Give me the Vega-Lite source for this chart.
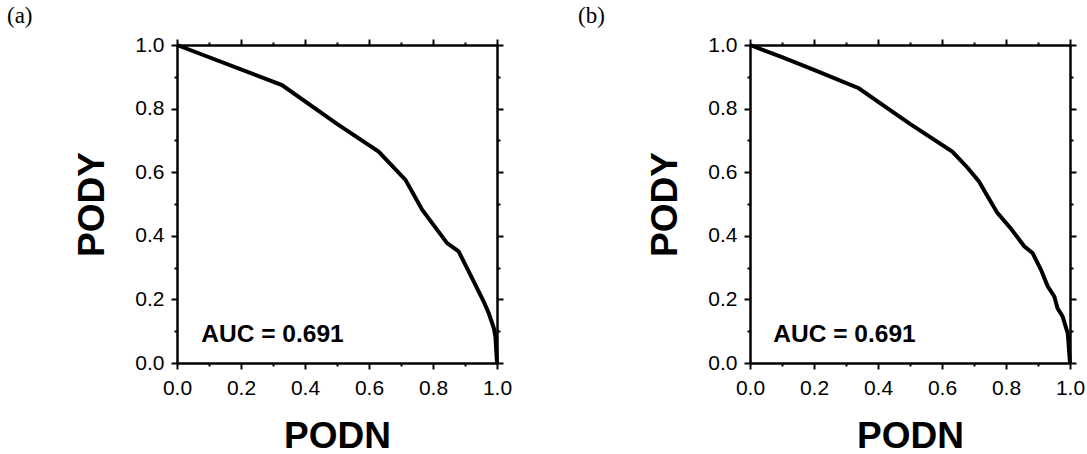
{
  "$schema": "https://vega.github.io/schema/vega-lite/v6.json",
  "background": "white",
  "padding": {"left": 7, "top": 5, "right": 0, "bottom": 0},
  "bounds": "flush",
  "spacing": 253,
  "datasets": {
    "a": [
      {"podn": 0, "pody": 1},
      {"podn": 0.328, "pody": 0.874},
      {"podn": 0.5, "pody": 0.752},
      {"podn": 0.63, "pody": 0.665},
      {"podn": 0.714, "pody": 0.576},
      {"podn": 0.766, "pody": 0.482},
      {"podn": 0.844, "pody": 0.377},
      {"podn": 0.88, "pody": 0.351},
      {"podn": 0.917, "pody": 0.277},
      {"podn": 0.958, "pody": 0.194},
      {"podn": 0.974, "pody": 0.157},
      {"podn": 0.99, "pody": 0.11},
      {"podn": 0.995, "pody": 0.084},
      {"podn": 1, "pody": 0}
    ],
    "b": [
      {"podn": 0, "pody": 1},
      {"podn": 0.1, "pody": 0.962},
      {"podn": 0.2, "pody": 0.922},
      {"podn": 0.34, "pody": 0.864},
      {"podn": 0.42, "pody": 0.808},
      {"podn": 0.5, "pody": 0.752},
      {"podn": 0.632, "pody": 0.665},
      {"podn": 0.68, "pody": 0.614},
      {"podn": 0.716, "pody": 0.57},
      {"podn": 0.745, "pody": 0.52},
      {"podn": 0.773, "pody": 0.472},
      {"podn": 0.815, "pody": 0.423},
      {"podn": 0.857, "pody": 0.367},
      {"podn": 0.883, "pody": 0.346},
      {"podn": 0.909, "pody": 0.294},
      {"podn": 0.93, "pody": 0.242},
      {"podn": 0.951, "pody": 0.209},
      {"podn": 0.961, "pody": 0.172},
      {"podn": 0.977, "pody": 0.146},
      {"podn": 0.993, "pody": 0.093},
      {"podn": 1, "pody": 0}
    ]
  },
  "config": {
    "view": {"stroke": null},
    "axis": {
      "grid": false,
      "domainColor": "black",
      "domainWidth": 2.5,
      "tickColor": "black",
      "tickWidth": 2,
      "labelColor": "black",
      "labelFont": "Liberation Sans",
      "labelFontSize": 21,
      "titleColor": "black",
      "titleFont": "Liberation Sans",
      "titleFontWeight": "bold",
      "titleFontSize": 37
    },
    "title": {
      "font": "Liberation Serif",
      "fontSize": 23,
      "fontWeight": "normal",
      "color": "black",
      "anchor": "start",
      "frame": "group",
      "offset": 6
    }
  },
  "hconcat": [
    {
      "title": {"text": "(a)", "dx": -170},
      "width": 320,
      "height": 318,
      "data": {"name": "a"},
      "resolve": {"axis": {"x": "independent", "y": "independent"}},
      "layer": [
        {
          "mark": {"type": "line", "color": "black", "strokeWidth": 4, "clip": false},
          "encoding": {
            "x": {"field": "podn", "type": "quantitative", "scale": {"domain": [0, 1], "nice": false},
              "axis": {"orient": "bottom", "values": [0, 0.2, 0.4, 0.6, 0.8, 1], "format": ".1f", "tickSize": 6, "labelPadding": 8, "title": "PODN", "titlePadding": 20, "labelFlush": false, "labelOverlap": false}},
            "y": {"field": "pody", "type": "quantitative", "scale": {"domain": [0, 1], "nice": false},
              "axis": {"orient": "left", "values": [0, 0.2, 0.4, 0.6, 0.8, 1], "format": ".1f", "tickSize": 6, "labelPadding": 7, "title": "PODY", "titlePadding": 23, "labelFlush": false, "labelOverlap": false}}
          }
        },
        {
          "mark": {"type": "line", "strokeOpacity": 0},
          "encoding": {
            "x": {"field": "podn", "type": "quantitative", "axis": {"orient": "bottom", "values": [0.1, 0.3, 0.5, 0.7, 0.9], "tickSize": 3, "labels": false, "domain": false, "title": null}},
            "y": {"field": "pody", "type": "quantitative", "axis": {"orient": "left", "values": [0.1, 0.3, 0.5, 0.7, 0.9], "tickSize": 3, "labels": false, "domain": false, "title": null}}
          }
        },
        {
          "mark": {"type": "line", "strokeOpacity": 0},
          "encoding": {
            "x": {"field": "podn", "type": "quantitative", "axis": {"orient": "top", "values": [0, 0.2, 0.4, 0.6, 0.8, 1], "tickSize": 6, "labels": false, "title": null}},
            "y": {"field": "pody", "type": "quantitative", "axis": {"orient": "right", "values": [0, 0.2, 0.4, 0.6, 0.8, 1], "tickSize": 6, "labels": false, "title": null}}
          }
        },
        {
          "mark": {"type": "line", "strokeOpacity": 0},
          "encoding": {
            "x": {"field": "podn", "type": "quantitative", "axis": {"orient": "top", "values": [0.1, 0.3, 0.5, 0.7, 0.9], "tickSize": 3, "labels": false, "domain": false, "title": null}},
            "y": {"field": "pody", "type": "quantitative", "axis": {"orient": "right", "values": [0.1, 0.3, 0.5, 0.7, 0.9], "tickSize": 3, "labels": false, "domain": false, "title": null}}
          }
        },
        {
          "data": {"values": [{"label": "AUC = 0.691"}]},
          "mark": {"type": "text", "font": "Liberation Sans", "fontWeight": "bold", "fontSize": 24.5, "align": "left", "baseline": "alphabetic", "fill": "black"},
          "encoding": {
            "x": {"datum": 0.076, "type": "quantitative", "axis": null},
            "y": {"datum": 0.066, "type": "quantitative", "axis": null},
            "text": {"field": "label"}
          }
        }
      ]
    },
    {
      "title": {"text": "(b)", "dx": -172},
      "width": 320,
      "height": 318,
      "data": {"name": "b"},
      "resolve": {"axis": {"x": "independent", "y": "independent"}},
      "layer": [
        {
          "mark": {"type": "line", "color": "black", "strokeWidth": 4, "clip": false},
          "encoding": {
            "x": {"field": "podn", "type": "quantitative", "scale": {"domain": [0, 1], "nice": false},
              "axis": {"orient": "bottom", "values": [0, 0.2, 0.4, 0.6, 0.8, 1], "format": ".1f", "tickSize": 6, "labelPadding": 8, "title": "PODN", "titlePadding": 20, "labelFlush": false, "labelOverlap": false}},
            "y": {"field": "pody", "type": "quantitative", "scale": {"domain": [0, 1], "nice": false},
              "axis": {"orient": "left", "values": [0, 0.2, 0.4, 0.6, 0.8, 1], "format": ".1f", "tickSize": 6, "labelPadding": 7, "title": "PODY", "titlePadding": 23, "labelFlush": false, "labelOverlap": false}}
          }
        },
        {
          "mark": {"type": "line", "strokeOpacity": 0},
          "encoding": {
            "x": {"field": "podn", "type": "quantitative", "axis": {"orient": "bottom", "values": [0.1, 0.3, 0.5, 0.7, 0.9], "tickSize": 3, "labels": false, "domain": false, "title": null}},
            "y": {"field": "pody", "type": "quantitative", "axis": {"orient": "left", "values": [0.1, 0.3, 0.5, 0.7, 0.9], "tickSize": 3, "labels": false, "domain": false, "title": null}}
          }
        },
        {
          "mark": {"type": "line", "strokeOpacity": 0},
          "encoding": {
            "x": {"field": "podn", "type": "quantitative", "axis": {"orient": "top", "values": [0, 0.2, 0.4, 0.6, 0.8, 1], "tickSize": 6, "labels": false, "title": null}},
            "y": {"field": "pody", "type": "quantitative", "axis": {"orient": "right", "values": [0, 0.2, 0.4, 0.6, 0.8, 1], "tickSize": 6, "labels": false, "title": null}}
          }
        },
        {
          "mark": {"type": "line", "strokeOpacity": 0},
          "encoding": {
            "x": {"field": "podn", "type": "quantitative", "axis": {"orient": "top", "values": [0.1, 0.3, 0.5, 0.7, 0.9], "tickSize": 3, "labels": false, "domain": false, "title": null}},
            "y": {"field": "pody", "type": "quantitative", "axis": {"orient": "right", "values": [0.1, 0.3, 0.5, 0.7, 0.9], "tickSize": 3, "labels": false, "domain": false, "title": null}}
          }
        },
        {
          "data": {"values": [{"label": "AUC = 0.691"}]},
          "mark": {"type": "text", "font": "Liberation Sans", "fontWeight": "bold", "fontSize": 24.5, "align": "left", "baseline": "alphabetic", "fill": "black"},
          "encoding": {
            "x": {"datum": 0.073, "type": "quantitative", "axis": null},
            "y": {"datum": 0.066, "type": "quantitative", "axis": null},
            "text": {"field": "label"}
          }
        }
      ]
    }
  ]
}
